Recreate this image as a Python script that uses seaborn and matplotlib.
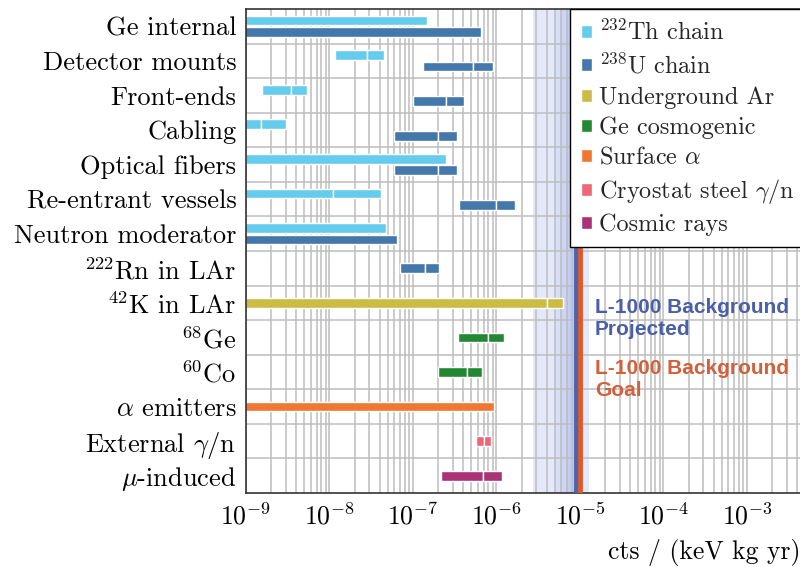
import matplotlib
matplotlib.use("Agg")
import matplotlib.pyplot as plt
from matplotlib.patches import Patch
from matplotlib.ticker import LogLocator, NullFormatter
import seaborn as sns
import pandas as pd

sns.set_theme(style="whitegrid")
plt.rcParams["font.family"] = ["cmr10", "DejaVu Serif"]
plt.rcParams["mathtext.fontset"] = "cm"
plt.rcParams["axes.formatter.use_mathtext"] = True

sources = ["Ge internal", "Detector mounts", "Front-ends", "Cabling", "Optical fibers",
           "Re-entrant vessels", "Neutron moderator", r"$^{222}$Rn in LAr", r"$^{42}$K in LAr",
           r"$^{68}$Ge", r"$^{60}$Co", r"$\alpha$ emitters", r"External $\gamma$/n",
           r"$\mu$-induced"]

components = [r"$^{232}$Th chain", r"$^{238}$U chain", "Underground Ar", "Ge cosmogenic",
              r"Surface $\alpha$", r"Cryostat steel $\gamma$/n", "Cosmic rays"]
colors = ["#66ccee", "#4477aa", "#ccbb44", "#228833", "#ee7733", "#ee6677", "#aa3377"]

# break points per row: lower, (central), upper  [cts / (keV kg yr)]
th_rows = [0, 1, 2, 3, 4, 5, 6]
th_edges = [[1e-10, 1.48e-7], [1.16e-8, 2.85e-8, 4.5e-8], [1.54e-9, 3.46e-9, 5.4e-9],
            [1e-10, 1.53e-9, 2.99e-9], [1e-10, 2.48e-7], [1e-10, 1.09e-8, 4.14e-8],
            [1e-10, 4.75e-8]]
u_rows = [0, 1, 2, 3, 4, 5, 6, 7]
u_edges = [[1e-10, 6.6e-7], [1.31e-7, 5.2e-7, 9.2e-7], [9.9e-8, 2.5e-7, 4.05e-7],
           [5.97e-8, 1.99e-7, 3.37e-7], [5.97e-8, 1.99e-7, 3.37e-7],
           [3.59e-7, 1.0e-6, 1.67e-6], [1e-10, 6.5e-8], [6.99e-8, 1.39e-7, 2.07e-7]]
ar_rows = [8]
ar_edges = [[1e-10, 4.06e-6, 6.3e-6]]
ge_rows = [9, 10]
ge_edges = [[3.49e-7, 7.98e-7, 1.23e-6], [1.99e-7, 4.39e-7, 6.7e-7]]
alpha_rows = [11]
alpha_edges = [[1e-10, 9.3e-7]]
steel_rows = [12]
steel_edges = [[5.68e-7, 7.08e-7, 8.67e-7]]
muon_rows = [13]
muon_edges = [[2.18e-7, 6.8e-7, 1.15e-6]]

projected = 8.9e-6
goal = 1.0e-5
projected_band = [2.7e-6, 1.28e-5]
xticks = [1e-9, 1e-8, 1e-7, 1e-6, 1e-5, 1e-4, 1e-3]

all_rows = [th_rows, u_rows, ar_rows, ge_rows, alpha_rows, steel_rows, muon_rows]
all_edges = [th_edges, u_edges, ar_edges, ge_edges, alpha_edges, steel_edges, muon_edges]

# split every row into segments (white gap at the central value)
recs = []
for ci, (rows, edges) in enumerate(zip(all_rows, all_edges)):
    for r, e in zip(rows, edges):
        off = 0.0
        if r in th_rows and r in u_rows:
            off = -0.165 if ci == 0 else 0.165
        for a, b in zip(e[:-1], e[1:]):
            recs.append(dict(comp=ci, y=r + off, left=a, right=b))
seg = pd.DataFrame(recs)

fig = plt.figure(figsize=(8, 5.67), dpi=100)
ax = fig.add_axes([246 / 800, 74 / 567, 584.5 / 800, 484 / 567])
ax.set_xscale("log")
ax.set_xlim(1e-9, 1e-2)
ax.set_ylim(13.5, -0.5)

# gradient band around projected value
ax.axvspan(projected_band[0], projected_band[1], color="#5470e0", alpha=0.16, lw=0, zorder=0.3)
for lo in [5e-6, 6e-6, 7e-6, 8e-6]:
    ax.axvspan(lo, projected, color="#5470e0", alpha=0.08, lw=0, zorder=0.3)

for _, s in seg.iterrows():
    ax.barh(s.y, s.right - s.left, left=s.left, height=0.28, color=colors[int(s.comp)],
            edgecolor="white", linewidth=1.0, zorder=2)

ax.axvline(projected, color="#4a64b4", lw=3.5, zorder=3)
ax.axvline(goal, color="#dd5a2a", lw=3.5, zorder=3)

ax.text(1.5e-5, 8.45, "L-1000 Background\nProjected", color="#4a5fa8", fontsize=15,
        fontweight="bold", family="Liberation Sans", va="center", ha="left")
ax.text(1.5e-5, 10.22, "L-1000 Background\nGoal", color="#d2603a", fontsize=15,
        fontweight="bold", family="Liberation Sans", va="center", ha="left")

# grid
ax.set_axisbelow(True)
ax.set_xticks(xticks)
ax.xaxis.set_minor_locator(LogLocator(base=10, subs=range(2, 10), numticks=200))
ax.xaxis.set_minor_formatter(NullFormatter())
ax.set_yticks(range(len(sources)))
ax.set_yticklabels(sources)
ax.set_yticks([i + 0.5 for i in range(len(sources) - 1)], minor=True)
ax.grid(False)
ax.grid(True, which="both", axis="x", color="#bdbdbd", lw=1.1)
ax.axvline(1e-2, color="#bdbdbd", lw=1.1, zorder=0.5)
ax.grid(True, which="minor", axis="y", color="#bdbdbd", lw=1.1)
ax.tick_params(axis="both", which="both", length=0, colors="black")
ax.tick_params(axis="y", pad=7, labelsize=19)
ax.tick_params(axis="x", pad=7, labelsize=18.5)
for sp in ax.spines.values():
    sp.set_color("#333333")
    sp.set_linewidth(1.2)

ax.set_xlabel("cts / (keV kg yr)", fontsize=18.5, color="black")
ax.xaxis.set_label_coords((800 - 246) / 584.5, -0.123)
ax.xaxis.label.set_ha("right")
ax.xaxis.label.set_va("center")

handles = [Patch(facecolor=c, edgecolor="white", label=l) for c, l in zip(colors, components)]
leg = ax.legend(handles=handles, loc="upper left", bbox_to_anchor=((570 - 246) / 584.5, 1.0),
                fontsize=17.5, frameon=True, fancybox=False, framealpha=1, edgecolor="black",
                handlelength=0.45, handleheight=0.45, handletextpad=0.3, labelspacing=0.32,
                borderpad=0.45, borderaxespad=0)
leg.get_frame().set_linewidth(1.0)
leg.set_zorder(5)

fig.savefig("out.png", dpi=100)
